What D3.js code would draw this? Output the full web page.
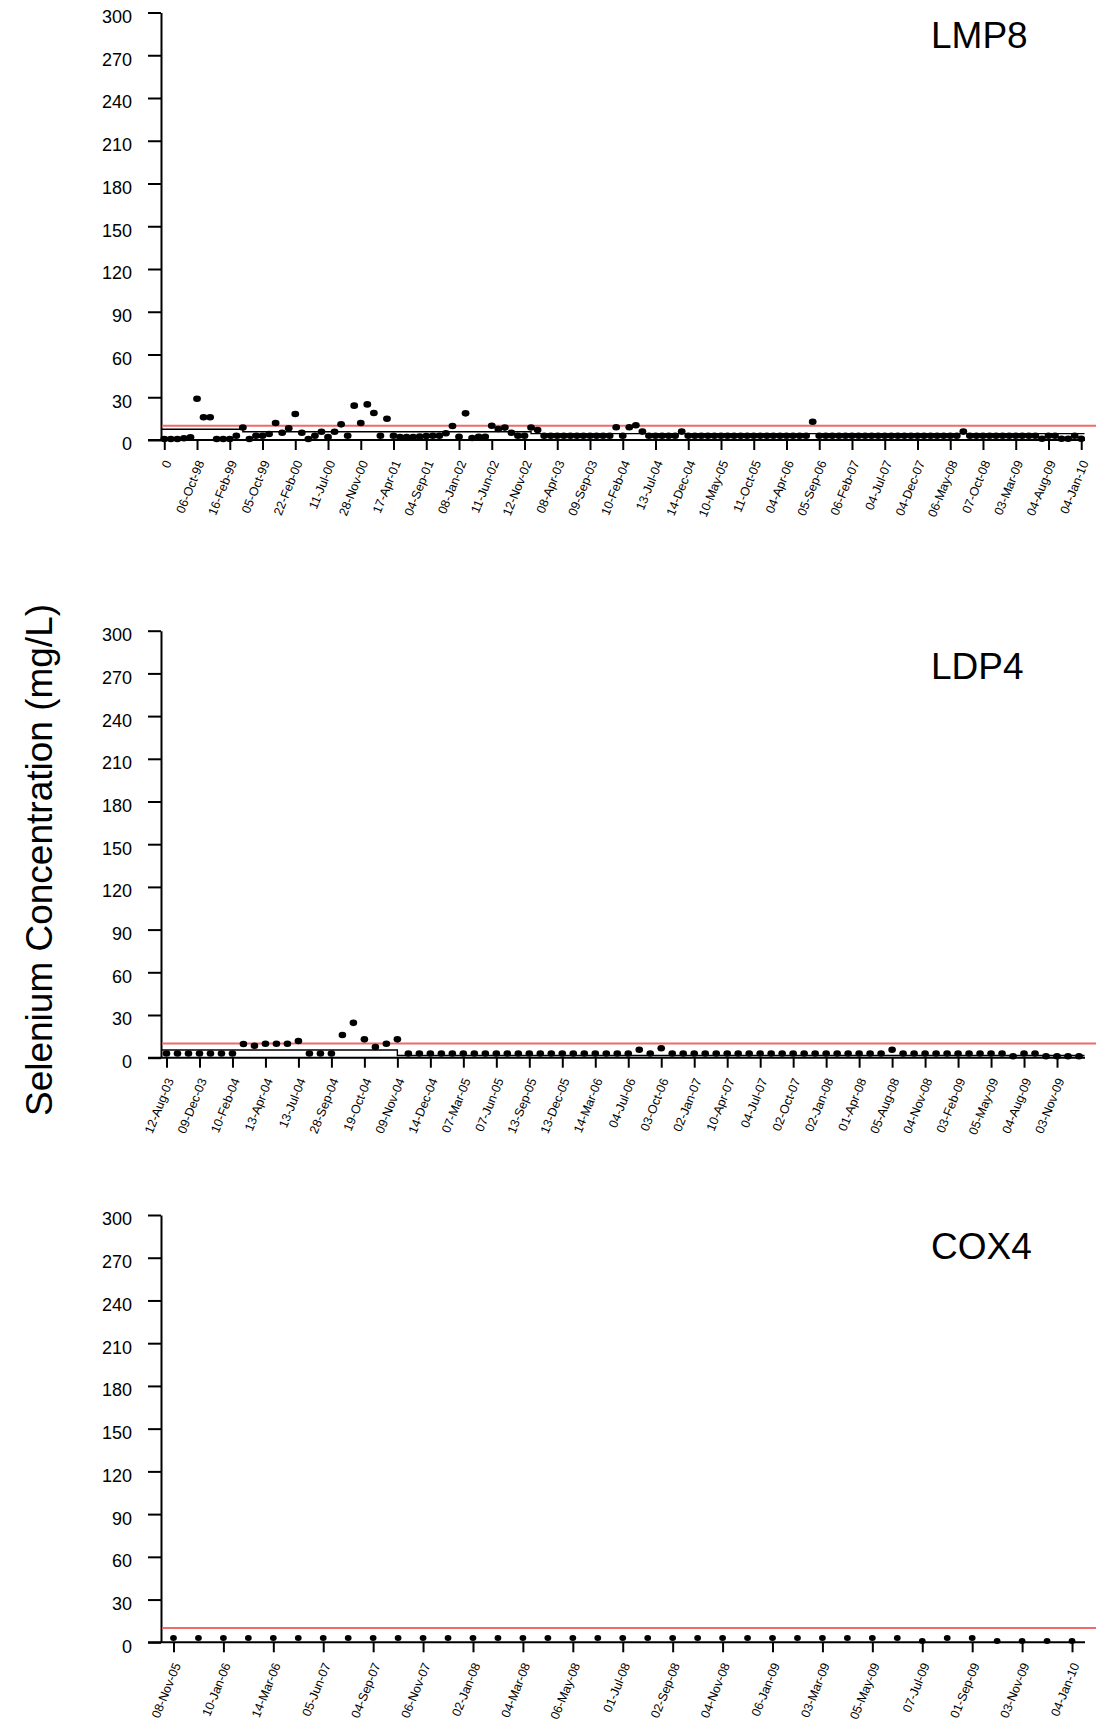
<!DOCTYPE html>
<html><head><meta charset="utf-8">
<script src="https://cdn.jsdelivr.net/npm/d3@7"></script>
<style>
body{margin:0;background:#fff}
svg{display:block;background:#fff}
text{font-family:"Liberation Sans",Arial,Helvetica,sans-serif;fill:#000}
</style>
</head><body>
<svg id="chart" width="1096" height="1731"></svg>
<script>
// ---------------- DATA ----------------
const yTickValues = [0, 30, 60, 90, 120, 150, 180, 210, 240, 270, 300];
const guidelineValue = 10;
const yAxisTitle = "Selenium Concentration (mg/L)";

const lmp8Title = "LMP8";
const lmp8TickLabels = ["0","06-Oct-98","16-Feb-99","05-Oct-99","22-Feb-00","11-Jul-00","28-Nov-00","17-Apr-01","04-Sep-01","08-Jan-02","11-Jun-02","12-Nov-02","08-Apr-03","09-Sep-03","10-Feb-04","13-Jul-04","14-Dec-04","10-May-05","11-Oct-05","04-Apr-06","05-Sep-06","06-Feb-07","04-Jul-07","04-Dec-07","06-May-08","07-Oct-08","03-Mar-09","04-Aug-09","04-Jan-10"];
const lmp8TickEvery = 5;
const lmp8Values = [
 0.7,0.7,0.7,1.2,1.9, 29,16,16,0.7,0.7, 0.7,3,8.8,0.7,3, 3,4.2,11.9,5.1,8.2,
 18.2,5.1,0.7,3,5.8, 2.1,5.8,11,3,24.1, 11.9,25,18.9,3,14.9, 3,2.1,2.1,2.1,2.5,
 2.8,3,3,4.7,9.8, 2.3,18.7,1.4,2.3,2.3, 10,7.7,8.7,5.1,3, 3,8.8,7,3,3,
 3,3,3,3,3, 3,3,3,3,8.9, 3,8.9,10.3,5.9,3, 3,3,3,3,5.9,
 3,3,3,3,3, 3,3,3,3,3, 3,3,3,3,3, 3,3,3,3,12.8,
 3,3,3,3,3, 3,3,3,3,3, 3,3,3,3,3, 3,3,3,3,3,
 3,3,5.9,3,3, 3,3,3,3,3, 3,3,3,3,0.9, 3,3,0.9,0.9,3,
 0.9
];
const lmp8LimitBreaks = [0, 12, 56];
const lmp8LimitValues = [7.5, 5.8, 4.5];

const ldp4Title = "LDP4";
const ldp4TickLabels = ["12-Aug-03","09-Dec-03","10-Feb-04","13-Apr-04","13-Jul-04","28-Sep-04","19-Oct-04","09-Nov-04","14-Dec-04","07-Mar-05","07-Jun-05","13-Sep-05","13-Dec-05","14-Mar-06","04-Jul-06","03-Oct-06","02-Jan-07","10-Apr-07","04-Jul-07","02-Oct-07","02-Jan-08","01-Apr-08","05-Aug-08","04-Nov-08","03-Feb-09","05-May-09","04-Aug-09","03-Nov-09"];
const ldp4TickEvery = 3;
const ldp4Values = [
 3,3,3,3,3,3,3, 9.6,8.4,9.8,9.8,9.8,11.7, 3,3,3,
 15.9,24.5,12.9,7.5,9.8,12.9,
 3,3,3,3,3,3,3,3,3,3,3,3,3,3,3,3,3,3,3,3,3,
 5.6,3,6.6,
 3,3,3,3,3,3,3,3,3,3,3,3,3,3,3,3,3,3,3,3,
 5.6,
 3,3,3,3,3,3,3,3,3,3,
 1,3,3,1,1,1,1
];
const ldp4LimitBreaks = [0, 21];
const ldp4LimitValues = [5.4, 1.5];

const cox4Title = "COX4";
const cox4TickLabels = ["08-Nov-05","10-Jan-06","14-Mar-06","05-Jun-07","04-Sep-07","06-Nov-07","02-Jan-08","04-Mar-08","06-May-08","01-Jul-08","02-Sep-08","04-Nov-08","06-Jan-09","03-Mar-09","05-May-09","07-Jul-09","01-Sep-09","03-Nov-09","04-Jan-10"];
const cox4TickEvery = 2;
const cox4Values = [
 3,3,3,3,3,3,3,3,3,3, 3,3,3,3,3,3,3,3,3,3,
 3,3,3,3,3,3,3,3,3,3, 1,3,3,1,1,1,1
];
const cox4LimitBreaks = [];
const cox4LimitValues = [];

// ---------------- LAYOUT ----------------
const panels = [
  {title: lmp8Title, labels: lmp8TickLabels, every: lmp8TickEvery, values: lmp8Values,
   breaks: lmp8LimitBreaks, limits: lmp8LimitValues, top: 12.5, bottom: 440, titleY: 48.3, rx: 3.9, ry: 3.3},
  {title: ldp4Title, labels: ldp4TickLabels, every: ldp4TickEvery, values: ldp4Values,
   breaks: ldp4LimitBreaks, limits: ldp4LimitValues, top: 630.7, bottom: 1057.7, titleY: 679, rx: 3.8, ry: 3.3},
  {title: cox4Title, labels: cox4TickLabels, every: cox4TickEvery, values: cox4Values,
   breaks: cox4LimitBreaks, limits: cox4LimitValues, top: 1215, bottom: 1642.3, titleY: 1259.3, rx: 3.4, ry: 3.0}
];

const svg = d3.select("#chart");
const axisX = 161, xStart = 161, xEnd = 1084.5;

svg.append("g").attr("transform", "translate(52,860) rotate(-90)")
  .append("text").attr("text-anchor", "middle").style("font-size", "37px").text(yAxisTitle);

panels.forEach(p => {
  const n = p.values.length;
  const idx = d3.range(n);
  const x = d3.scalePoint().domain(idx).range([xStart, xEnd]).padding(0.5);
  const y = d3.scaleLinear().domain([0, 300]).range([p.bottom, p.top]);
  const g = svg.append("g");

  // y axis
  const ya = g.append("g").attr("transform", `translate(${axisX},0)`)
    .call(d3.axisLeft(y).tickValues(yTickValues).tickSize(13).tickSizeOuter(0).tickPadding(16));
  ya.selectAll("path.domain").attr("stroke", "#000").attr("stroke-width", 2);
  ya.selectAll(".tick line").attr("stroke", "#000").attr("stroke-width", 2);
  ya.selectAll(".tick text").style("font-size", "18px").attr("dy", "0.55em")
    .style("font-family", '"Liberation Sans",Arial,sans-serif').attr("fill", "#000");

  // x axis
  const tickIdx = idx.filter(i => i % p.every === 0 && i / p.every < p.labels.length);
  const xa = g.append("g").attr("transform", `translate(0,${p.bottom})`)
    .call(d3.axisBottom(x).tickValues(tickIdx).tickFormat(i => p.labels[i / p.every])
      .tickSize(10).tickSizeOuter(0).tickPadding(0));
  xa.select("path.domain").remove();
  xa.selectAll(".tick line").attr("stroke", "#000").attr("stroke-width", 2);
  xa.selectAll(".tick text")
    .attr("y", 0).attr("x", 0).attr("dy", "0.35em")
    .attr("text-anchor", "end")
    .attr("transform", "translate(3,21) rotate(-68)")
    .style("font-size", "12.5px")
    .style("font-family", '"Liberation Sans",Arial,sans-serif').attr("fill", "#000");
  g.append("line").attr("x1", 148).attr("x2", 1085)
    .attr("y1", p.bottom).attr("y2", p.bottom).attr("stroke", "#000").attr("stroke-width", 2);

  // limit (black step) line
  if (p.breaks.length) {
    const pts = [];
    p.breaks.forEach((b, k) => {
      const xs = k === 0 ? axisX : x(b);
      const xe = k + 1 < p.breaks.length ? x(p.breaks[k + 1]) : xEnd;
      pts.push([xs, y(p.limits[k])], [xe, y(p.limits[k])]);
    });
    g.append("path").attr("d", d3.line()(pts)).attr("fill", "none")
      .attr("stroke", "#000").attr("stroke-width", 1.4);
  }

  // guideline (red)
  g.append("line").attr("x1", axisX + 1).attr("x2", 1096)
    .attr("y1", y(guidelineValue)).attr("y2", y(guidelineValue))
    .attr("stroke", "#f06a6a").attr("stroke-width", 2);

  // points
  g.append("g").selectAll("ellipse").data(p.values).join("ellipse")
    .attr("cx", (d, i) => x(i)).attr("cy", d => y(d))
    .attr("rx", p.rx).attr("ry", p.ry).attr("fill", "#000");

  // title
  g.append("text").attr("x", 931).attr("y", p.titleY).style("font-size", "37px").text(p.title);
});
</script>
</body></html>
